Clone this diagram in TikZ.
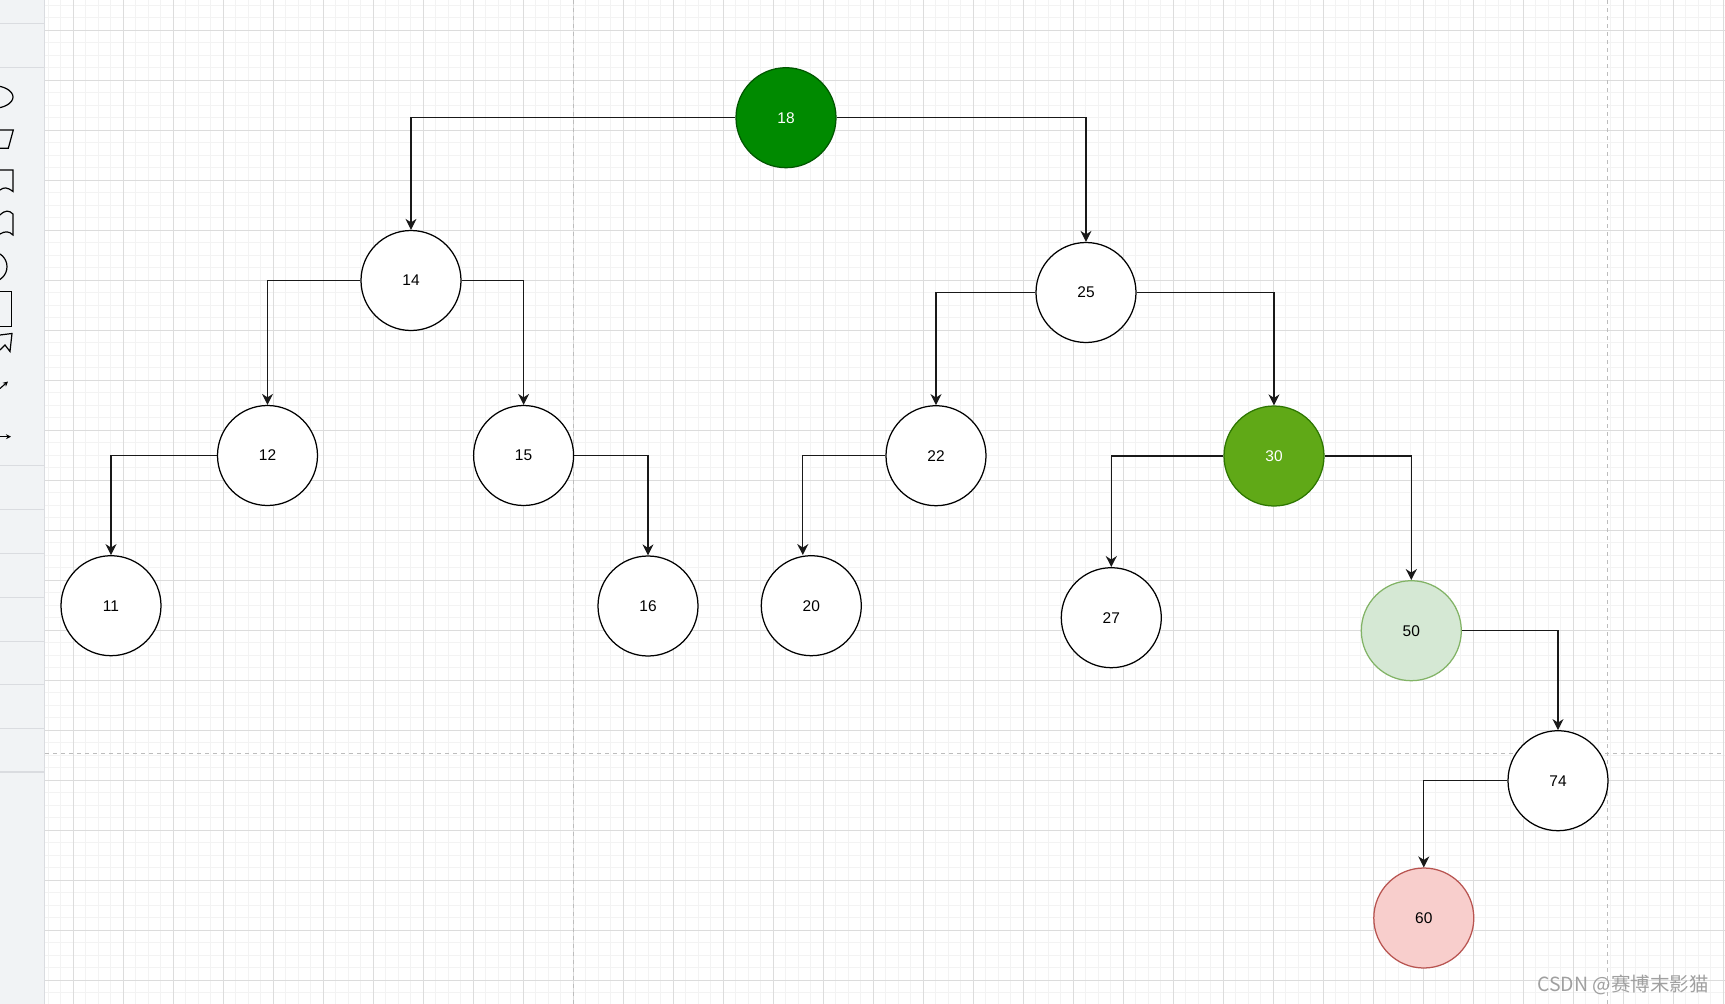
\documentclass[tikz,border=0pt]{standalone}
\usepackage{fontspec}
\setmainfont{Liberation Sans}
\newfontfamily\cjkfont{Noto Sans CJK SC}
\usetikzlibrary{arrows.meta}
\definecolor{minorc}{HTML}{F3F3F3}
\definecolor{majorc}{HTML}{DCDCDC}
\definecolor{pagec}{HTML}{BDBDBD}
\definecolor{sidefill}{HTML}{F1F3F5}
\definecolor{sideline}{HTML}{DADCE0}
\definecolor{dgreenF}{HTML}{008A00}
\definecolor{dgreenS}{HTML}{005700}
\definecolor{lgreenF}{HTML}{60A917}
\definecolor{lgreenS}{HTML}{2D7600}
\definecolor{pgreenF}{HTML}{D5E8D4}
\definecolor{pgreenS}{HTML}{82B366}
\definecolor{predF}{HTML}{F8CECC}
\definecolor{predS}{HTML}{B85450}
\definecolor{wmark}{HTML}{A0A0A0}
\tikzset{
  minorline/.style={draw=minorc, line width=1pt},
  majorline/.style={draw=majorc, line width=1pt},
  pageline/.style={draw=pagec, line width=1pt, dash pattern=on 4pt off 4pt},
  sideshape/.style={draw=black, line width=1.2pt},
  treenode/.style={circle, draw=black, fill=white, line width=1.25pt, minimum size=100pt, inner sep=0pt, font=\fontsize{15.5}{18}\selectfont},
  edge/.style={draw=black!90, line width=1.2pt, -{Stealth[length=11pt,width=11pt,inset=3.5pt]}},
}
\begin{document}
\begin{tikzpicture}[x=1pt,y=-1pt]
\useasboundingbox (0,0) rectangle (1725,1004);
\fill[white] (0,0) rectangle (1725,1004);
% grid
\foreach \i in {0,...,134} \draw[minorline] ({48+12.5*\i},0) -- ({48+12.5*\i},1004);
\foreach \i in {0,...,79} \draw[minorline] (45,{5+12.5*\i}) -- (1725,{5+12.5*\i});
\foreach \i in {0,...,33} \draw[majorline] ({73+50*\i},0) -- ({73+50*\i},1004);
\foreach \i in {0,...,19} \draw[majorline] (45,{30+50*\i}) -- (1725,{30+50*\i});
% page breaks
\draw[pageline] (573,0) -- (573,1004);
\draw[pageline] (1607,0) -- (1607,1004);
\draw[pageline] (45,753) -- (1725,753);
% sidebar
\fill[sidefill] (0,0) rectangle (44,1004);
\draw[sideline, line width=1.2pt] (44.5,0) -- (44.5,1004);
\foreach \y in {23,67,465,509,553,597,641,684,728} \draw[sideline, line width=1pt] (0,\y) -- (44,\y);
\draw[sideline, line width=1.6pt] (0,772) -- (44,772);
\begin{scope}
\clip (0,0) rectangle (44,1004);
\draw[sideshape] (-8,97) ellipse [x radius=21, y radius=11.5];
\draw[sideshape] (-10,130) -- (13.3,130) -- (8.3,148.3) -- (-10,148.3);
\draw[sideshape] (-10,170) -- (13,170) -- (13,191.5) .. controls (7,187) and (4,187) .. (0,190);
\draw[sideshape] (0,215) .. controls (5,210) and (9,210) .. (13,214) -- (13,235) .. controls (9,231) and (5,231) .. (0,234);
\draw[sideshape] (-8,266.7) circle [radius=15];
\draw[sideshape] (-10,291.7) rectangle (11.7,326.7);
\draw[sideshape] (0,335) -- (12,333.5) -- (10,351.5) -- (5,345) -- (0,350);
\draw[black, line width=1.1pt, -{Stealth[length=5pt,width=5pt]}] (0,388.5) -- (8,381.5);
\draw[black, line width=1.1pt, -{Stealth[length=5pt,width=5pt]}] (-2,436.7) -- (11,436.7);
\end{scope}
% nodes
\node[treenode, draw=dgreenS, fill=dgreenF, text=white] (n18) at (786,117.7) {18};
\node[treenode] (n14) at (411,280.5) {14};
\node[treenode] (n25) at (1086,292.5) {25};
\node[treenode] (n12) at (267.5,455.5) {12};
\node[treenode] (n15) at (523.6,455.5) {15};
\node[treenode] (n22) at (936,455.7) {22};
\node[treenode, draw=lgreenS, fill=lgreenF, text=white] (n30) at (1274,456) {30};
\node[treenode] (n11) at (111,605.7) {11};
\node[treenode] (n16) at (648,606) {16};
\node[treenode] (n20) at (811.3,605.7) {20};
\node[treenode] (n27) at (1111.3,617.7) {27};
\node[treenode, draw=pgreenS, fill=pgreenF] (n50) at (1411.3,630.7) {50};
\node[treenode] (n74) at (1558,780.7) {74};
\node[treenode, draw=predS, fill=predF] (n60) at (1423.8,918) {60};
% edges
\draw[edge] (n18.west) -| (n14.north);
\draw[edge] (n18.east) -| (n25.north);
\draw[edge] (n14.west) -| (n12.north);
\draw[edge] (n14.east) -| (n15.north);
\draw[edge] (n25.west) -| (n22.north);
\draw[edge] (n25.east) -| (n30.north);
\draw[edge] (n12.west) -| (n11.north);
\draw[edge] (n15.east) -| (n16.north);
\draw[edge] (n22.west) -| ([xshift=-8.5pt]n20.north);
\draw[edge] (n30.west) -| (n27.north);
\draw[edge] (n30.east) -| (n50.north);
\draw[edge] (n50.east) -| (n74.north);
\draw[edge] (n74.west) -| (n60.north);
% watermark
\node[anchor=east, inner sep=0pt, text=wmark, font=\cjkfont\fontsize{19.5}{22}\selectfont] (wm) at (1709,985) {CSDN @赛博末影猫};
\end{tikzpicture}
\end{document}
